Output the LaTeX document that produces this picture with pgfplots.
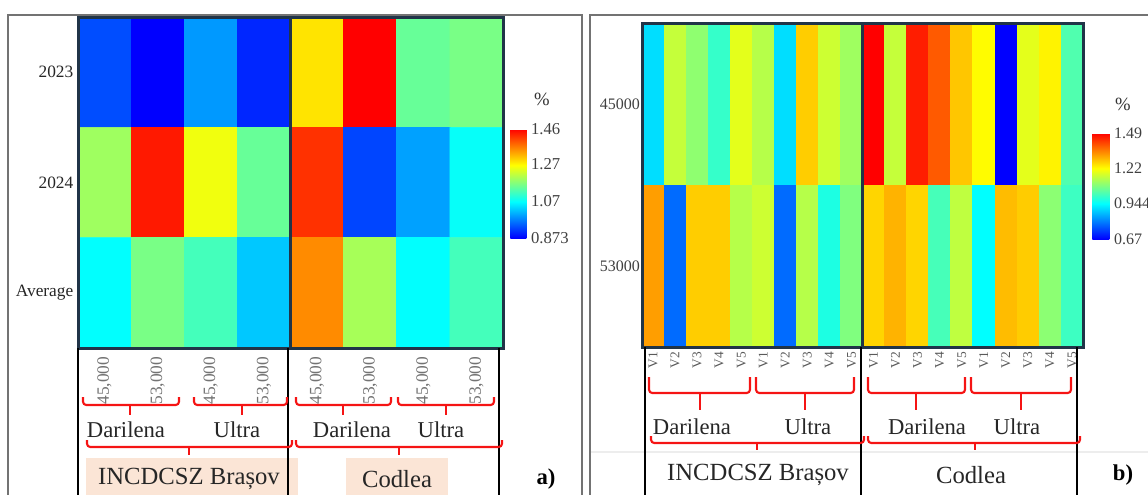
\documentclass[border=0pt]{standalone}
\usepackage{pgfplots}
\pgfplotsset{compat=1.18}
\usepackage{fontspec}
\setmainfont{Liberation Serif}
\definecolor{frameblue}{RGB}{32,52,72}
\definecolor{peach}{RGB}{251,229,214}
\definecolor{bred}{RGB}{245,20,20}
\pgfplotsset{colormap={bcyr}{rgb255(0pt)=(0,0,255); rgb255(1pt)=(0,255,255); rgb255(2pt)=(255,255,0); rgb255(3pt)=(255,0,0)}}
\newcommand\brk[6]{%
  \draw[bred, line width=1.6pt, rounded corners=2.5pt] (#1,#4) -- (#1,#5) -- (#2,#5) -- (#2,#4);
  \draw[bred, line width=1.6pt] (#3,#5) -- (#3,#6);}
\begin{document}
\begin{tikzpicture}
\useasboundingbox (0pt,0pt) rectangle (861pt,-370.5pt);
% ---------------- panel a ----------------
\begin{axis}[
  at={(58.5pt,-12.75pt)}, anchor=north west,
  scale only axis, width=318.75pt, height=248.25pt,
  xmin=-0.5, xmax=7.5, ymin=-0.5, ymax=2.5, y dir=reverse,
  enlargelimits=false, axis on top,
  axis line style={draw=frameblue, line width=2.25pt},
  major tick length=0pt,
  xtick={0,...,7},
  xticklabels={{45,000},{53,000},{45,000},{53,000},{45,000},{53,000},{45,000},{53,000}},
  xticklabel style={rotate=90, anchor=east, font=\fontsize{13}{13}\selectfont, text=black!55, xshift=-3pt},
  ytick={0,1,2}, yticklabels={2023,2024,Average},
  yticklabel style={font=\fontsize{13}{13}\selectfont, text=black!85},
  colormap name=bcyr, point meta min=0.873, point meta max=1.46,
  colorbar,
  colorbar style={
    at={(parent axis.north east)}, anchor=north west, xshift=-3pt, yshift=-84pt,
    scale only axis, width=12pt, height=81.75pt,
    ytick={0.873,1.07,1.27,1.46}, yticklabels={0.873,1.07,1.27,1.46},
    major tick length=0pt, axis line style={draw=none},
    yticklabel style={font=\fontsize{12.5}{12.5}\selectfont, text=black!75},
  },
]
\addplot[matrix plot*, mesh/cols=8, point meta=explicit] table[meta=v] {
x y v
0 0 0.932
1 0 0.873
2 0 0.990
3 0 0.902
4 0 1.284
5 0 1.460
6 0 1.147
7 0 1.161
0 1 1.190
1 1 1.440
2 1 1.253
3 1 1.147
4 1 1.421
5 1 0.926
6 1 0.996
7 1 1.073
0 2 1.069
1 2 1.161
2 2 1.120
3 2 1.026
4 2 1.352
5 2 1.196
6 2 1.069
7 2 1.120
};
\draw[frameblue, line width=2.25pt] (axis cs:3.5,-0.5) -- (axis cs:3.5,2.5);
\end{axis}
% ---------------- panel b ----------------
\begin{axis}[
  at={(481.5pt,-17.25pt)}, anchor=north west,
  scale only axis, width=330.75pt, height=243pt,
  xmin=-0.5, xmax=19.5, ymin=-0.5, ymax=1.5, y dir=reverse,
  enlargelimits=false, axis on top,
  axis line style={draw=frameblue, line width=2.25pt},
  major tick length=0pt,
  xtick={0,...,19},
  xticklabels={V1,V2,V3,V4,V5,V1,V2,V3,V4,V5,V1,V2,V3,V4,V5,V1,V2,V3,V4,V5},
  xticklabel style={rotate=90, anchor=east, font=\fontsize{10}{10}\selectfont, text=black!65},
  ytick={0,1}, yticklabels={45000,53000},
  yticklabel style={font=\fontsize{12}{12}\selectfont, text=black!75, xshift=2pt},
  colormap name=bcyr, point meta min=0.67, point meta max=1.49,
  colorbar,
  colorbar style={
    at={(parent axis.north east)}, anchor=north west, xshift=-1.5pt, yshift=-82.5pt,
    scale only axis, width=12.75pt, height=79.5pt,
    ytick={0.67,0.944,1.22,1.49}, yticklabels={0.67,0.944,1.22,1.49},
    major tick length=0pt, axis line style={draw=none},
    yticklabel style={font=\fontsize{12}{12}\selectfont, text=black!75},
  },
]
\addplot[matrix plot*, mesh/cols=20, point meta=explicit] table[meta=v] {
x y v
0 0 0.908
1 0 1.154
2 0 1.096
3 0 1.000
4 0 1.187
5 0 1.137
6 0 0.908
7 0 1.269
8 0 1.162
9 0 1.113
10 0 1.490
11 0 1.154
12 0 1.457
13 0 1.392
14 0 1.277
15 0 1.219
16 0 0.670
17 0 1.187
18 0 1.228
19 0 1.028
0 1 1.319
1 1 0.785
2 1 1.269
3 1 1.269
4 1 1.137
5 1 1.162
6 1 0.785
7 1 1.137
8 1 0.973
9 1 1.080
10 1 1.260
11 1 1.297
12 1 1.260
13 1 1.018
14 1 1.147
15 1 0.943
16 1 1.287
17 1 1.270
18 1 1.093
19 1 1.008
};
\draw[frameblue, line width=2.25pt] (axis cs:9.5,-0.5) -- (axis cs:9.5,1.5);
\end{axis}
% ---------------- annotations (px coordinates) ----------------
\begin{scope}[x=0.75pt, y=-0.75pt]
  % outer frames
  \draw[black!55, line width=1.1pt] (8,500) -- (8,15) -- (582,15) -- (582,500);
  \draw[black!55, line width=1.1pt] (590,500) -- (590,15) -- (1152,15);
  \draw[black!7, line width=1pt] (591,452) -- (1148,452);
  % percent signs
  \node[font=\fontsize{14}{14}\selectfont, text=black!80] at (542,99) {\%};
  \node[font=\fontsize{14}{14}\selectfont, text=black!80] at (1123,104) {\%};
  % ---- panel a bottom ----
  \fill[peach] (86,458) rectangle (298,500);
  \fill[peach] (346,458) rectangle (448,500);
  \draw[black, line width=1.8pt] (78,348) -- (78,500);
  \draw[black, line width=1.8pt] (288,348) -- (288,500);
  \draw[black, line width=1.8pt] (499,348) -- (499,500);
  \brk{83}{179}{130}{397}{405}{415}
  \brk{194}{287}{242}{397}{405}{415}
  \brk{296}{391}{343}{397}{405}{415}
  \brk{398}{494}{446}{397}{405}{415}
  \brk{87}{292}{189}{440}{447}{455}
  \brk{296}{502}{399}{440}{447}{455}
  \begin{scope}[every node/.style={font=\fontsize{17}{17}\selectfont, text=black!85}]
    \node at (126,430) {Darilena};
    \node at (237,430) {Ultra};
    \node at (352,430) {Darilena};
    \node at (441,430) {Ultra};
  \end{scope}
  \begin{scope}[every node/.style={font=\fontsize{18.5}{18.5}\selectfont, text=black!85}]
    \node at (189,479) {INCDCSZ Brașov};
    \node at (397,479) {Codlea};
  \end{scope}
  \node[font=\bfseries\fontsize{17}{17}\selectfont] at (546,479) {a)};
  % ---- panel b bottom ----
  \draw[black, line width=1.8pt] (645,347) -- (645,500);
  \draw[black, line width=1.8pt] (861,347) -- (861,500);
  \draw[black, line width=1.8pt] (1077,347) -- (1077,500);
  \brk{649}{750}{700}{377}{393}{410}
  \brk{756}{854}{805}{377}{393}{410}
  \brk{868}{965}{916}{377}{393}{410}
  \brk{971}{1071}{1021}{377}{393}{410}
  \brk{651}{864}{757}{436}{443}{450}
  \brk{868}{1080}{975}{436}{443}{450}
  \begin{scope}[every node/.style={font=\fontsize{17}{17}\selectfont, text=black!85}]
    \node at (692,427) {Darilena};
    \node at (808,427) {Ultra};
    \node at (927,427) {Darilena};
    \node at (1017,427) {Ultra};
  \end{scope}
  \begin{scope}[every node/.style={font=\fontsize{18.5}{18.5}\selectfont, text=black!85}]
    \node at (758,475) {INCDCSZ Brașov};
    \node at (971,475) {Codlea};
  \end{scope}
  \node[font=\bfseries\fontsize{17}{17}\selectfont] at (1123,475) {b)};
\end{scope}
\end{tikzpicture}
\end{document}
